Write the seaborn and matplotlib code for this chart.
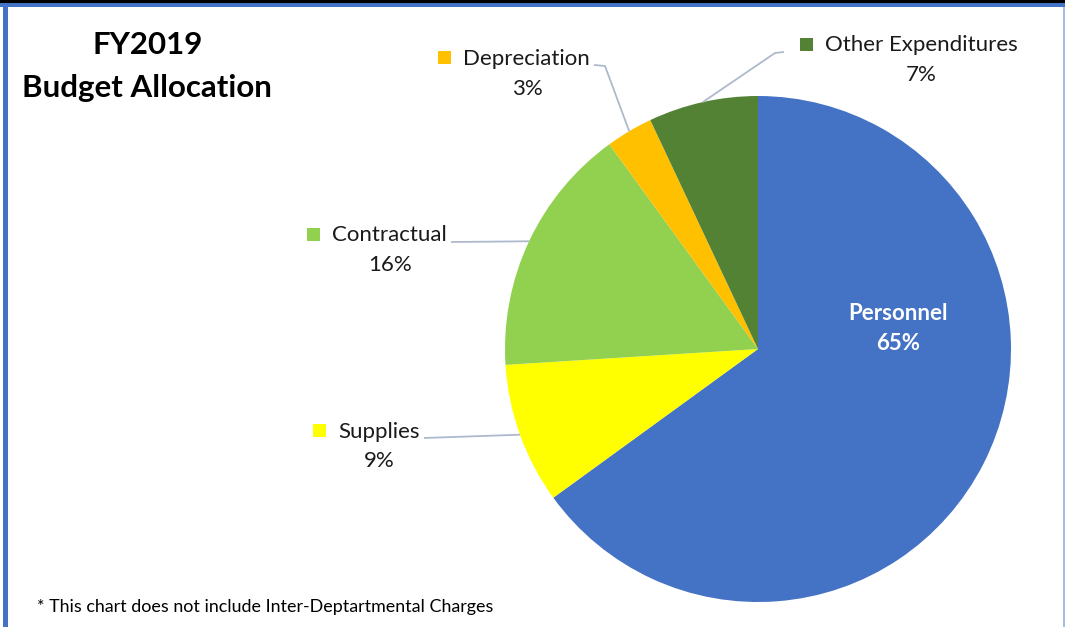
import matplotlib
matplotlib.use("Agg")
import matplotlib.pyplot as plt
from matplotlib.patches import Rectangle
import numpy as np
import seaborn as sns

# Budget shares (percent), drawn clockwise from 12 o'clock
categories = ["Personnel", "Supplies", "Contractual", "Depreciation", "Other Expenditures"]
shares = [65, 9, 16, 3, 7]
colors = ["#4472C4", "#FFFF00", "#92D050", "#FFC000", "#548235"]

title_lines = ["FY2019", "Budget Allocation"]
footnote = "* This chart does not include Inter-Deptartmental Charges"

sns.set_theme(style="white")
plt.rcParams["font.family"] = ["Lato", "DejaVu Sans"]

W, H = 1065, 627
fig = plt.figure(figsize=(W / 100, H / 100), dpi=100)
fig.patch.set_facecolor("white")

# pie geometry in pixel space (origin top-left)
CX, CY, R = 758, 349, 253
pie_ax = fig.add_axes([(CX - R) / W, (H - CY - R) / H, 2 * R / W, 2 * R / H])
wedges, _ = pie_ax.pie(shares, colors=colors, startangle=90, counterclock=False,
                       radius=1.0, wedgeprops=dict(linewidth=0))
pie_ax.set_xlim(-1, 1)
pie_ax.set_ylim(-1, 1)
pie_ax.set_aspect("equal")
pie_ax.axis("off")

# overlay in pixel coordinates for annotations and frame
ov = fig.add_axes([0, 0, 1, 1], zorder=5)
ov.set_xlim(0, W)
ov.set_ylim(H, 0)
ov.axis("off")

def rim_point(w, frac=1.0):
    a = np.deg2rad((w.theta1 + w.theta2) / 2)
    return CX + frac * R * np.cos(a), CY - frac * R * np.sin(a)

line_kw = dict(color="#AEB9CC", lw=1.3, solid_capstyle="butt")
label_fs = 16

# outside labels: square corner, text row, value position, leader path start points
outside = {
    "Supplies": dict(sq=(313, 424), ty=432, vx=379, vy=461, path=[(424, 438)]),
    "Contractual": dict(sq=(307, 228), ty=235, vx=390, vy=265, path=[(451, 242)]),
    "Depreciation": dict(sq=(438, 51), ty=59, vx=527, vy=89, path=[(594, 65), (605, 66)]),
    "Other Expenditures": dict(sq=(800, 38), ty=45, vx=921, vy=75, path=[(784, 52), (775, 53)]),
}

for w, name, share, col in zip(wedges, categories, shares, colors):
    if name == "Personnel":
        ov.text(898, 313, name, color="white", fontsize=16, fontweight="bold",
                ha="center", va="center")
        ov.text(898, 344, f"{share}%", color="white", fontsize=16, fontweight="bold",
                ha="center", va="center")
        continue
    spec = outside[name]
    sx, sy = spec["sq"]
    ov.add_patch(Rectangle((sx, sy), 13, 13, facecolor=col, edgecolor="none"))
    ov.text(sx + 25, spec["ty"], name, fontsize=label_fs, color="#1a1a1a",
            ha="left", va="center")
    ov.text(spec["vx"], spec["vy"], f"{share}%", fontsize=label_fs, color="#1a1a1a",
            ha="center", va="center")
    ex, ey = rim_point(w, 1.0)
    pts = spec["path"] + [(ex, ey)]
    ov.plot([p[0] for p in pts], [p[1] for p in pts], **line_kw)

# title
ov.text(148, 45, title_lines[0], fontsize=22.5, fontweight="bold", ha="center",
        va="center", color="black")
ov.text(147, 88, title_lines[1], fontsize=22.5, fontweight="bold", ha="center",
        va="center", color="black")

# footnote
ov.text(37, 607, footnote, fontsize=12.9, ha="left", va="center", color="black")

# frame
ov.add_patch(Rectangle((0, 0), W, 2.5, facecolor="black", edgecolor="none"))
ov.add_patch(Rectangle((0, 2.5), W, 4, facecolor="#4472C4", edgecolor="none"))
ov.add_patch(Rectangle((3, 6.5), 4.5, H, facecolor="#4472C4", edgecolor="none"))
ov.add_patch(Rectangle((1063, 6.5), 1.5, H, facecolor="#A9BCE4", edgecolor="none"))

fig.savefig("out.png", dpi=100, facecolor="white")
